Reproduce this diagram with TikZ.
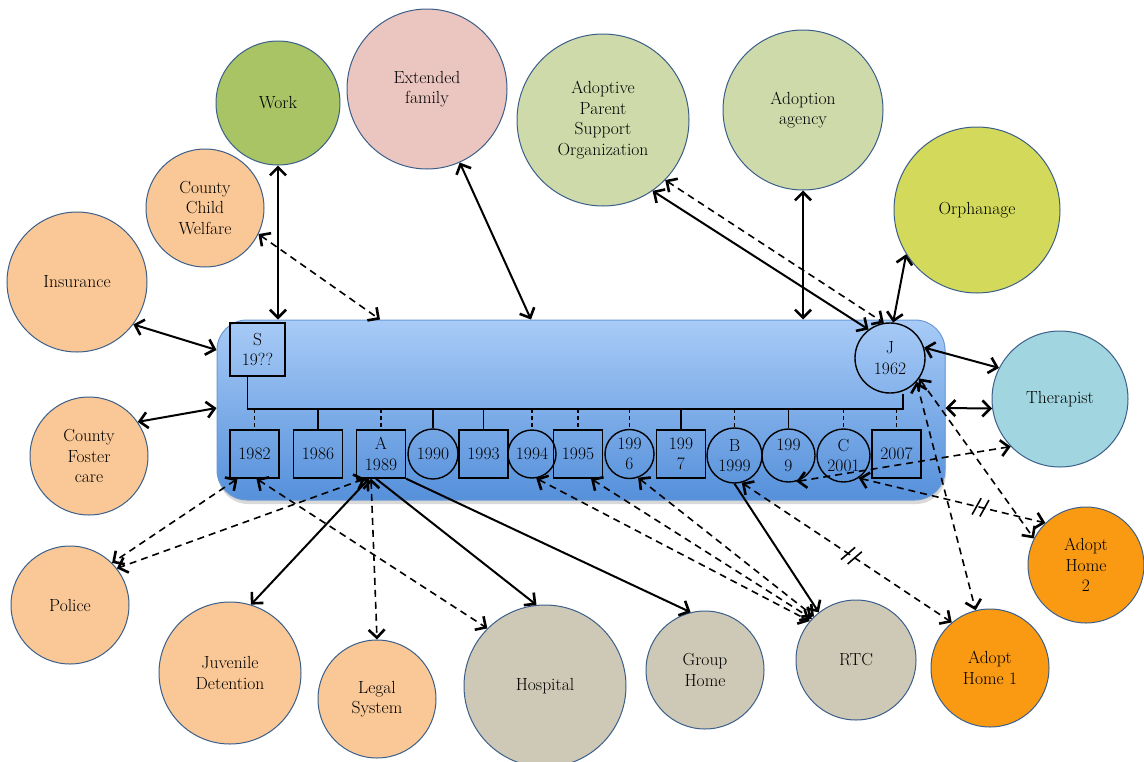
\documentclass[tikz,border=0pt]{standalone}
\usepackage{fontspec}
\usetikzlibrary{arrows.meta,decorations.markings,shadows}

\definecolor{ringblue}{HTML}{3B5F8A}
\definecolor{peach}{HTML}{FAC896}
\definecolor{stone}{HTML}{CEC8B6}
\definecolor{sage}{HTML}{CFDAAB}
\definecolor{leaf}{HTML}{A8C465}
\definecolor{rose}{HTML}{EBC5C0}
\definecolor{lime}{HTML}{D3D95A}
\definecolor{sky}{HTML}{A1D6E0}
\definecolor{amber}{HTML}{F99A12}
\definecolor{bartop}{HTML}{A8CBF7}
\definecolor{barbottom}{HTML}{5590DA}
\definecolor{baredge}{HTML}{6A9AD4}

\begin{document}
\begin{tikzpicture}[x=1pt,y=-1pt,
  >={Straight Barb[length=8pt,width=16pt,line width=2.6pt]},
  every node/.style={font=\fontsize{17.5}{20.5}\selectfont},
  bubble/.style={circle, draw=ringblue, line width=1pt, inner sep=0pt,
    align=center, minimum size=#1},
  kidbox/.style={rectangle, draw=black, line width=1.4pt, inner sep=0pt,
    align=center, minimum width=49pt, minimum height=48pt},
  kidring/.style={circle, draw=black, line width=1.4pt, inner sep=0pt,
    align=center, minimum size=#1},
  famline/.style={draw=black, line width=1.4pt},
  famdash/.style={draw=black, line width=1.4pt, dash pattern=on 4pt off 3pt},
  solidlink/.style={draw=black, line width=2pt},
  dashlink/.style={draw=black, line width=1.6pt, dash pattern=on 7pt off 5pt},
  brokenlink/.style={postaction={decorate, decoration={markings,
    mark=at position #1 with {
      \draw[solid, arrows=-, line width=1.6pt] (-6pt,-9pt) -- (-1pt,9pt);
      \draw[solid, arrows=-, line width=1.6pt] (2pt,-9pt) -- (7pt,9pt);}}}}
]
\useasboundingbox (0,0) rectangle (1144,761);

% surrounding systems
\node[bubble=124pt, fill=leaf]  (Work) at (278,103) {Work};
\node[bubble=160pt, fill=rose]  (EF)   at (427,89)  {Extended\\family};
\node[bubble=172pt, fill=sage]  (APSO) at (603,120) {Adoptive\\Parent\\Support\\Organization};
\node[bubble=160pt, fill=sage]  (AA)   at (803,110) {Adoption\\agency};
\node[bubble=166pt, fill=lime]  (Orph) at (977,210) {Orphanage};
\node[bubble=118pt, fill=peach] (CCW)  at (205,208) {County\\Child\\Welfare};
\node[bubble=140pt, fill=peach] (Ins)  at (77,282)  {Insurance};
\node[bubble=118pt, fill=peach] (CFC)  at (89,456)  {County\\Foster\\care};
\node[bubble=118pt, fill=peach] (Police) at (70,605) {Police};
\node[bubble=142pt, fill=peach] (JD)   at (230,673) {Juvenile\\Detention};
\node[bubble=118pt, fill=peach] (Legal) at (377,699) {Legal\\System};
\node[bubble=162pt, fill=stone] (Hosp) at (545,686) {Hospital};
\node[bubble=118pt, fill=stone] (GH)   at (705,670) {Group\\Home};
\node[bubble=120pt, fill=stone] (RTC)  at (856,660) {RTC};
\node[bubble=118pt, fill=amber] (AH1)  at (990,668) {Adopt\\Home 1};
\node[bubble=116pt, fill=amber] (AH2)  at (1086,565) {Adopt\\Home\\2};
\node[bubble=136pt, fill=sky]   (Ther) at (1060,399) {Therapist};

% family panel
\node[draw=baredge, line width=1pt, rounded corners=30pt,
  top color=bartop, bottom color=barbottom,
  minimum width=728pt, minimum height=180pt, inner sep=0pt,
  drop shadow={opacity=0.3, shadow xshift=1pt, shadow yshift=-4pt}]
  (bar) at (581,410) {};

% parents
\node[kidbox, minimum width=55pt, minimum height=53pt] (S) at (257.5,349.5) {S\\19??};
\node[kidring=70pt] (J) at (890,358) {J\\1962};
\coordinate (hl) at (0,409);
\draw[famline] ([xshift=-10pt]S.south) -- ([xshift=-10pt]S.south |- hl)
  -| ([xshift=13pt]J.south);

% children
\node[kidbox] (c1982) at (254.5,454) {1982};
\node[kidbox] (c1986) at (318,454) {1986};
\node[kidbox] (A) at (381,454) {A\\1989};
\node[kidring=50pt] (c1990) at (433,454) {1990};
\node[kidbox] (c1993) at (483.5,454) {1993};
\node[kidring=48pt] (c1994) at (532,454) {1994};
\node[kidbox] (c1995) at (578,454) {1995};
\node[kidring=49pt] (c1996) at (629.5,454) {199\\6};
\node[kidbox] (c1997) at (681,454) {199\\7};
\node[kidring=55pt] (B) at (734.5,455.5) {B\\1999};
\node[kidring=53pt] (c1999) at (788.5,455.5) {199\\9};
\node[kidring=53pt] (C) at (843.5,455.5) {C\\2001};
\node[kidbox] (c2007) at (896.5,454) {2007};

\draw[famdash] (c1982.north |- hl) -- (c1982.north);
\draw[famline] (c1986.north |- hl) -- (c1986.north);
\draw[famdash] (A.north |- hl) -- (A.north);
\draw[famline] (c1990.north |- hl) -- (c1990.north);
\draw[famline] (c1993.north |- hl) -- (c1993.north);
\draw[famdash] (c1994.north |- hl) -- (c1994.north);
\draw[famdash] (c1995.north |- hl) -- (c1995.north);
\draw[famdash] (c1996.north |- hl) -- (c1996.north);
\draw[famline] (c1997.north |- hl) -- (c1997.north);
\draw[famdash] (B.north |- hl) -- (B.north);
\draw[famline] (c1999.north |- hl) -- (c1999.north);
\draw[famdash] (C.north |- hl) -- (C.north);
\draw[famdash] (c2007.north |- hl) -- (c2007.north);

% relationships with the family as a whole
\draw[solidlink,<->] (Work.south) -- (Work.south |- bar.north);
\draw[dashlink,<->] (CCW.-26) -- ([xshift=-201pt]bar.north);
\draw[solidlink,<->] (EF.-66) -- ([xshift=-50pt]bar.north);
\draw[solidlink,<->] (Ins.-37) -- ([yshift=60pt]bar.west);
\draw[solidlink,<->] (CFC.35) -- ([yshift=2pt]bar.west);
\draw[solidlink,<->] (AA.south) -- (AA.south |- bar.north);
\draw[solidlink,<->] ([yshift=2pt]bar.east) -- (Ther.188);

% relationships of J
\draw[solidlink,<->] (APSO.-55) -- (J.127);
\draw[dashlink,<->] (APSO.-44) -- (J.100);
\draw[solidlink,<->] (Orph.212) -- (J.85);
\draw[solidlink,<->] (J.17) -- (Ther.153);
\draw[dashlink,<->] (J.-35) -- (AH2.153);
\draw[dashlink,<->] (J.-42) -- (AH1.104);

% relationships of the children
\draw[dashlink,<->] (c1999.-73) -- (Ther.-136);
\draw[dashlink,<->,brokenlink=0.65] (C.-56) -- (AH2.134);
\draw[dashlink,<->,brokenlink=0.52] (B.-75) -- (AH1.130);
\draw[solidlink,->] (B.south) -- (RTC.128);
\draw[dashlink,<->] (c1994.-80) -- (RTC.140);
\draw[dashlink,<->] ([xshift=13pt]c1995.south) -- (RTC.137);
\draw[dashlink,<->] (c1996.-70) -- (RTC.134);
\draw[dashlink,<->] ([xshift=-17pt]c1982.south) -- (Police.45);
\draw[dashlink,<->] ([xshift=-16pt]A.south) -- (Police.38);
\draw[dashlink,<->] ([xshift=2pt]c1982.south) -- (Hosp.135);
\draw[solidlink,<->] ([xshift=-12pt]A.south) -- (JD.73);
\draw[dashlink,<->] ([xshift=-10pt]A.south) -- (Legal.north);
\draw[solidlink,->] ([xshift=-5pt]A.south) -- (Hosp.96);
\draw[solidlink,->] (A.south east) -- (GH.104);
\end{tikzpicture}
\end{document}
